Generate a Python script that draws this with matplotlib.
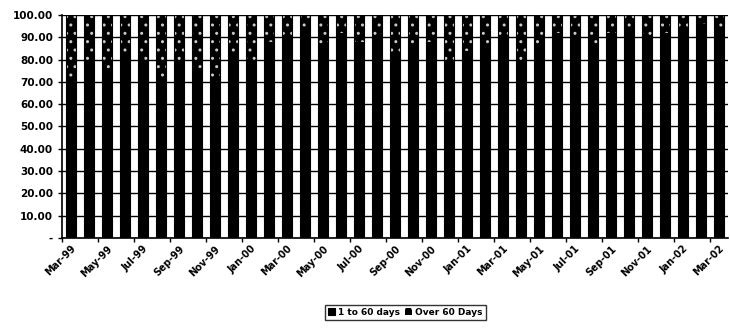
import numpy as np
import matplotlib
matplotlib.use("Agg")
import matplotlib.pyplot as plt

# monthly categories Mar-99 .. Mar-02
months = ['Mar-99', 'Apr-99', 'May-99', 'Jun-99', 'Jul-99', 'Aug-99', 'Sep-99', 'Oct-99',
          'Nov-99', 'Dec-99', 'Jan-00', 'Feb-00', 'Mar-00', 'Apr-00', 'May-00', 'Jun-00',
          'Jul-00', 'Aug-00', 'Sep-00', 'Oct-00', 'Nov-00', 'Dec-00', 'Jan-01', 'Feb-01',
          'Mar-01', 'Apr-01', 'May-01', 'Jun-01', 'Jul-01', 'Aug-01', 'Sep-01', 'Oct-01',
          'Nov-01', 'Dec-01', 'Jan-02', 'Feb-02', 'Mar-02']

# share of receivables over 60 days (%), estimated from the lighter bar tops
over_60 = [30, 22, 25, 18, 20, 28, 22, 24, 30, 18, 20, 12, 10, 6, 14, 8,
           12, 10, 18, 15, 12, 20, 16, 14, 10, 22, 15, 8, 10, 14, 8, 6,
           10, 8, 6, 4, 6]
upto_60 = [100 - v for v in over_60]

labels_shown = months[::2]

fig, ax = plt.subplots(figsize=(7.3, 3.31), dpi=100)
fig.subplots_adjust(left=0.085, right=0.997, top=0.955, bottom=0.281)

x = np.arange(len(months))
ax.bar(x, upto_60, width=0.56, color='black', edgecolor='black', linewidth=0.8,
       label='1 to 60 days', zorder=3)
ax.bar(x, over_60, width=0.56, bottom=upto_60, color='black', edgecolor='#c8c8c8',
       hatch='..', linewidth=0, label='Over 60 Days', zorder=3)
ax.bar(x, over_60, width=0.56, bottom=upto_60, fill=False, edgecolor='black',
       linewidth=0.8, zorder=4)

ax.set_xlim(-0.5, len(months) - 0.5)
ax.set_ylim(0, 100)
ax.set_yticks(np.arange(0, 101, 10))
ax.set_yticklabels(['-'] + ['%.2f' % v for v in range(10, 101, 10)],
                   fontsize=7.5, fontweight='bold')
ax.yaxis.grid(True, color='black', linewidth=1.0, zorder=0)

# tick labels every other month, tick marks on category boundaries
ax.set_xticks(x[::2])
ax.set_xticklabels(labels_shown, rotation=45, ha='right', rotation_mode='anchor',
                   fontsize=7, fontweight='bold')
ax.tick_params(axis='x', length=0, pad=4)
ax.set_xticks(np.arange(-0.5, len(months), 2), minor=True)
ax.tick_params(axis='x', which='minor', length=3, width=1, direction='out')
ax.tick_params(axis='y', length=3, width=1)

for s in ['top', 'right']:
    ax.spines[s].set_visible(False)
ax.spines['left'].set_linewidth(1.2)
ax.spines['bottom'].set_linewidth(1.2)

handles, labs = ax.get_legend_handles_labels()
leg = fig.legend(handles[:2], labs[:2], loc='lower center', bbox_to_anchor=(0.555, 0.02),
                 ncol=2, frameon=True, fancybox=False, edgecolor='black',
                 handlelength=0.8, handleheight=0.8, handletextpad=0.3, columnspacing=0.6,
                 borderpad=0.35, prop={'weight': 'bold', 'size': 6.5})
leg.get_frame().set_linewidth(1.0)

fig.savefig('out.png', dpi=100)
